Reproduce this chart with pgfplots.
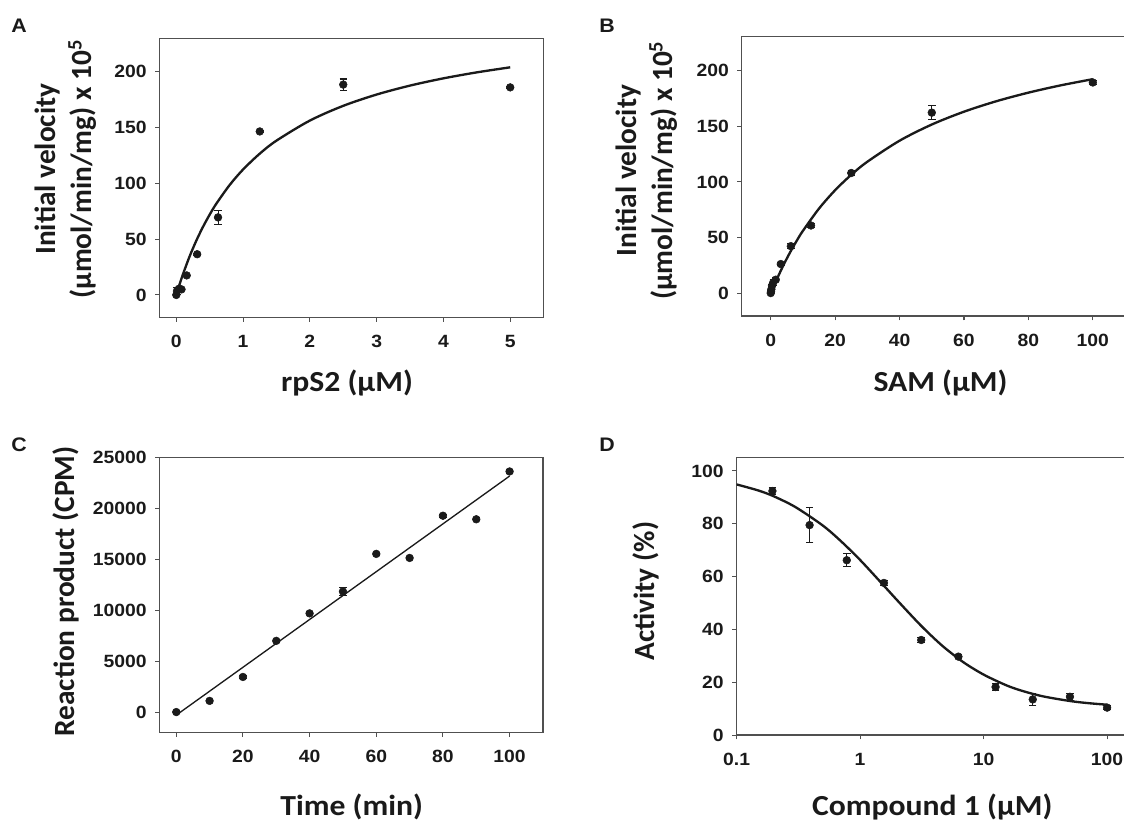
\documentclass[border=0pt]{standalone}
\usepackage{fontspec}
\setmainfont{Liberation Sans}
\newfontfamily\labfont{Carlito}
\usepackage{pgfplots}
\pgfplotsset{compat=1.18}
\definecolor{ink}{HTML}{1A1A1A}
\definecolor{axgray}{HTML}{505050}
\pgfplotsset{
  panel/.style={
    scale only axis,
    anchor=north west,
    axis line style={axgray, line width=0.9pt},
    tick pos=left, tick align=outside,
    major tick length=3.2pt,
    tick style={axgray, line width=0.8pt},
    ticklabel style={font=\fontsize{13.3}{15}\selectfont\bfseries, text=ink, xscale=1.09},
    /pgf/number format/assume math mode=true,
    /pgf/number format/1000 sep={},
    xticklabel style={yshift=-6.8pt},
    yticklabel style={xshift=-2.4pt},
    xlabel style={font=\labfont\bfseries\fontsize{21.8}{26.8}\selectfont, text=ink, xscale=1.09},
    ylabel style={font=\labfont\bfseries\fontsize{22}{26.8}\selectfont, text=ink},
  },
  pts/.style={only marks, mark=*, mark size=2.9pt, color=ink,
    error bars/.cd, y dir=both, y explicit,
    error bar style={line width=0.8pt, ink},
    error mark options={rotate=90, mark size=2.8pt, line width=0.8pt, ink}},
  fit/.style={no marks, smooth, line width=1.75pt, color=ink},
}
\pgfplotstableread{
x y e
0 0 0.5
0.0098 3.5 3
0.039 5.5 1
0.078 5 1
0.156 17.5 1
0.3125 36.5 1
0.625 69.5 6
1.25 146.5 1
2.5 188.5 5
5 186 1
}\dataA
\pgfplotstableread{
x y
0.02 3.95
0.05 9.64
0.1 18.58
0.2 34.66
0.3 48.69
0.4 61.05
0.5 72.02
0.6 81.82
0.8 98.60
1.0 112.42
1.25 126.63
1.5 138.28
2 156.25
2.5 169.47
3 179.59
3.5 187.60
4 194.09
4.5 199.45
5 203.97
}\fitA
\pgfplotstableread{
x y e
0 0.5 0.5
0.1 2 1
0.2 4 1
0.39 7 1
0.78 10 3
1.56 12.5 2
3.125 26.5 1
6.25 42.5 2
12.5 61 1.5
25 108 2.5
50 162 6
100 189 1.5
}\dataB
\pgfplotstableread{
x y
1 6.97
2 13.58
4 25.82
6 36.91
8 47.01
10 56.24
15 76.19
20 92.62
25 106.38
30 118.08
40 136.90
50 151.37
60 162.85
70 172.18
80 179.90
90 186.41
100 191.96
}\fitB
\pgfplotstableread{
x y e
0 0 150
10 1100 150
20 3450 150
30 7000 150
40 9700 150
50 11850 350
60 15550 150
70 15150 150
80 19300 150
90 18950 150
100 23650 150
}\dataC
\pgfplotstableread{
x y e
0.195 92.4 1.2
0.39 79.5 6.5
0.78 66.2 2.4
1.56 57.6 0.8
3.125 36 0.8
6.25 29.7 0.8
12.5 18.2 1.2
25 13.5 2.2
50 14.5 1.3
100 10.4 0.8
}\dataD
\pgfplotstableread{
x y
0.1 94.9
0.15 92.6
0.2 90.4
0.3 86.3
0.5 79.3
0.7 73.4
1 66.3
1.5 57.4
2 51.0
3 42.2
4 36.5
5 32.5
7 27.3
10 22.9
15 19.0
20 16.9
30 14.7
50 12.9
70 12.1
100 11.5
}\fitD
\begin{document}
\begin{tikzpicture}
\useasboundingbox (0,0) rectangle (843pt,-615.75pt);
\clip (0,0) rectangle (843pt,-615.75pt);
\tikzset{panlet/.style={font=\fontsize{14.7}{16}\selectfont\bfseries, text=ink, xscale=1.09, inner sep=0pt}}
\node[panlet] at (14.4pt,-19pt) {A};
\node[panlet] at (455.4pt,-19pt) {B};
\node[panlet] at (14.4pt,-333.4pt) {C};
\node[panlet] at (455.4pt,-333.4pt) {D};
% Panel A
\begin{axis}[panel, at={(119.7pt,-28.7pt)}, width=288pt, height=209.25pt,
  xmin=-0.25, xmax=5.5, ymin=-20, ymax=230,
  xtick={0,1,2,3,4,5}, ytick={0,50,100,150,200},
  xlabel={rpS2 (µM)}, ylabel={Initial velocity\\(µmol/min/mg) x 10\textsuperscript{5}},
  xlabel style={at={(axis description cs:0.488,-0.235)}, anchor=center},
  ylabel style={at={(axis description cs:-0.244,0.531)}, anchor=center, align=center}]
\addplot[fit] table[x=x,y=y] {\fitA};
\addplot[pts] table[x=x,y=y,y error=e] {\dataA};
\end{axis}
% Panel B
\begin{axis}[panel, at={(556.3pt,-27.5pt)}, width=292.3pt, height=209.5pt,
  xmin=-9, xmax=112, ymin=-20, ymax=230,
  xtick={0,20,40,60,80,100}, ytick={0,50,100,150,200},
  xlabel={SAM (µM)}, ylabel={Initial velocity\\(µmol/min/mg) x 10\textsuperscript{5}},
  xlabel style={at={(axis description cs:0.51,-0.241)}, anchor=center},
  ylabel style={at={(axis description cs:-0.243,0.521)}, anchor=center, align=center}]
\addplot[fit] table[x=x,y=y] {\fitB};
\addplot[pts] table[x=x,y=y,y error=e] {\dataB};
\end{axis}
% Panel C
\begin{axis}[panel, at={(119.7pt,-343.3pt)}, width=287.5pt, height=206pt,
  xmin=-5, xmax=110, ymin=-2000, ymax=25000,
  xtick={0,20,40,60,80,100}, ytick={0,5000,10000,15000,20000,25000},
  scaled y ticks=false,
  xlabel={Time (min)}, ylabel={Reaction product (CPM)},
  xlabel style={at={(axis description cs:0.501,-0.271)}, anchor=center},
  ylabel style={at={(axis description cs:-0.244,0.513)}, anchor=center}]
\addplot[no marks, line width=1pt, color=ink] coordinates {(0,-300) (100,23200)};
\addplot[pts] table[x=x,y=y,y error=e] {\dataC};
\end{axis}
% Panel D
\begin{axis}[panel, at={(552.45pt,-343.3pt)}, width=296.4pt, height=208pt,
  xmode=log, xmin=0.1, xmax=158.5, ymin=0, ymax=105,
  xtick={0.1,1,10,100}, xticklabels={0.1,1,10,100}, xminorticks=false,
  ytick={0,20,40,60,80,100},
  xlabel={Compound 1 (µM)}, ylabel={Activity (\%)},
  xlabel style={at={(axis description cs:0.495,-0.259)}, anchor=center},
  ylabel style={at={(axis description cs:-0.2285,0.519)}, anchor=center}]
\addplot[fit] table[x=x,y=y] {\fitD};
\addplot[pts] table[x=x,y=y,y error=e] {\dataD};
\end{axis}
\end{tikzpicture}
\end{document}
